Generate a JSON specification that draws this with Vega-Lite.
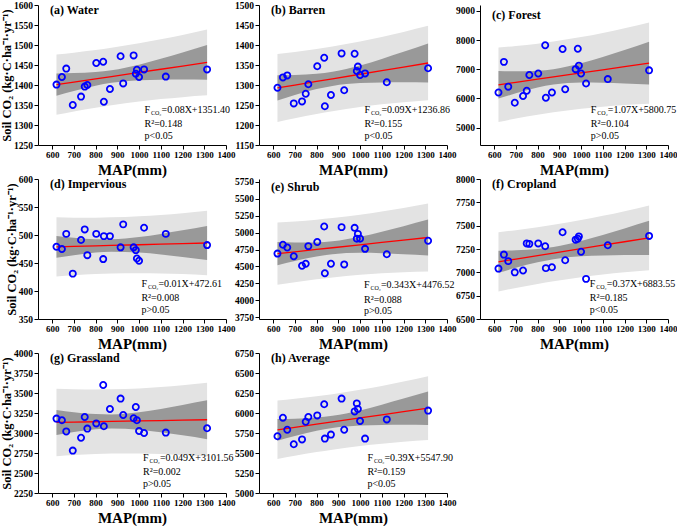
{
"$schema":"https://vega.github.io/schema/vega-lite/v6.json",
"padding":{"left":0,"top":0,"right":0,"bottom":0},
"bounds":"flush",
"columns":3,
"spacing":{"column":33,"row":34},
"config":{
 "view":{"stroke":null},
 "font":"Liberation Serif",
 "axis":{"grid":false,"labelOverlap":false,"tickCount":20,"domainColor":"black","tickColor":"black","tickSize":4,"labelFont":"Liberation Serif","labelFontWeight":"bold","labelFontSize":9.5,"labelColor":"black","labelPadding":1.5,"titleFont":"Liberation Serif","titleFontWeight":"bold","titleFontSize":15,"titleColor":"black"},
 "axisX":{"titlePadding":3,"labelFontSize":9,"labelOverlap":false,"labelFlush":false},
 "axisY":{"titleFontSize":12.5,"titlePadding":0,"labelOverlap":false},
 "title":{"font":"Liberation Serif","fontSize":12,"fontWeight":"bold","anchor":"start","frame":"group","offset":-17,"dx":12,"color":"black","baseline":"alphabetic"},
 "text":{"font":"Liberation Serif","fontSize":10,"color":"black","align":"left","baseline":"middle"},
 "point":{"shape":"circle","filled":false,"color":"#0000ff","strokeWidth":1.8,"size":38,"opacity":1}
},
"datasets":{
"pts":[
{"x":620,"a":1401,"b":1293,"c":6200,"d":479,"e":4690,"f":7040,"g":3180,"h":5710},
{"x":645,"a":1420,"b":1319,"c":7250,"d":475,"e":4820,"f":7190,"g":3160,"h":5940},
{"x":665,"a":1441,"b":1324,"c":6400,"d":502,"e":4780,"f":7120,"g":3020,"h":5790},
{"x":695,"a":1350,"b":1254,"c":5850,"d":431,"e":4650,"f":7000,"g":2780,"h":5610},
{"x":733,"a":1371,"b":1259,"c":6080,"d":491,"e":4510,"f":7020,"g":2940,"h":5670},
{"x":750,"a":1396,"b":1278,"c":6260,"d":510,"e":4540,"f":7310,"g":3200,"h":5890},
{"x":762,"a":1400,"b":1302,"c":6800,"d":464,"e":4800,"f":7305,"g":3055,"h":5950},
{"x":803,"a":1455,"b":1347,"c":6850,"d":502,"e":4860,"f":7310,"g":3120,"h":5970},
{"x":835,"a":1458,"b":1368,"c":7820,"d":457,"e":5090,"f":7280,"g":3600,"h":6110},
{"x":838,"a":1358,"b":1247,"c":6020,"d":498,"e":4400,"f":7045,"g":3085,"h":5680},
{"x":866,"a":1390,"b":1275,"c":6200,"d":498,"e":4540,"f":7055,"g":3300,"h":5730},
{"x":915,"a":1472,"b":1379,"c":7690,"d":478,"e":5080,"f":7430,"g":3430,"h":6180},
{"x":927,"a":1404,"b":1287,"c":6310,"d":519,"e":4530,"f":7130,"g":3225,"h":5790},
{"x":975,"a":1474,"b":1378,"c":7000,"d":478,"e":5070,"f":7350,"g":3185,"h":6020},
{"x":985,"a":1428,"b":1335,"c":7700,"d":473,"e":4910,"f":7360,"g":3325,"h":6120},
{"x":990,"a":1438,"b":1346,"c":7120,"d":458,"e":4980,"f":7385,"g":3160,"h":6050},
{"x":1000,"a":1420,"b":1325,"c":6850,"d":454,"e":4910,"f":7220,"g":3025,"h":5900},
{"x":1023,"a":1439,"b":1329,"c":6510,"d":513,"e":4760,"f":6930,"g":3000,"h":5680},
{"x":1123,"a":1421,"b":1307,"c":6660,"d":502,"e":4680,"f":7290,"g":3005,"h":5920},
{"x":1313,"a":1439,"b":1342,"c":6960,"d":482,"e":4880,"f":7390,"g":3060,"h":6030}
],
"bands":[
{"p":"a","x":620,"fit":1401.0,"cl":1373.0,"ch":1429.0,"pl":1325.6,"ph":1476.4},
{"p":"a","x":700,"fit":1407.4,"cl":1385.1,"ch":1429.7,"pl":1333.9,"ph":1480.9},
{"p":"a","x":800,"fit":1415.4,"cl":1398.4,"ch":1432.4,"pl":1343.4,"ph":1487.4},
{"p":"a","x":873,"fit":1421.2,"cl":1405.5,"ch":1436.9,"pl":1349.5,"ph":1492.9},
{"p":"a","x":1000,"fit":1431.4,"cl":1411.9,"ch":1450.9,"pl":1358.7,"ph":1504.1},
{"p":"a","x":1100,"fit":1439.4,"cl":1413.3,"ch":1465.5,"pl":1364.7,"ph":1514.1},
{"p":"a","x":1200,"fit":1447.4,"cl":1413.5,"ch":1481.3,"pl":1369.6,"ph":1525.2},
{"p":"a","x":1313,"fit":1456.4,"cl":1413.1,"ch":1499.7,"pl":1374.1,"ph":1538.7},
{"p":"b","x":620,"fit":1292.7,"cl":1261.1,"ch":1324.3,"pl":1207.6,"ph":1377.8},
{"p":"b","x":700,"fit":1299.9,"cl":1274.7,"ch":1325.1,"pl":1217.0,"ph":1382.8},
{"p":"b","x":800,"fit":1308.9,"cl":1289.7,"ch":1328.1,"pl":1227.6,"ph":1390.2},
{"p":"b","x":873,"fit":1315.4,"cl":1297.7,"ch":1333.1,"pl":1234.4,"ph":1396.4},
{"p":"b","x":1000,"fit":1326.9,"cl":1304.9,"ch":1348.9,"pl":1244.9,"ph":1408.9},
{"p":"b","x":1100,"fit":1335.9,"cl":1306.5,"ch":1365.3,"pl":1251.6,"ph":1420.2},
{"p":"b","x":1200,"fit":1344.9,"cl":1306.7,"ch":1383.1,"pl":1257.1,"ph":1432.7},
{"p":"b","x":1313,"fit":1355.0,"cl":1306.1,"ch":1403.9,"pl":1262.1,"ph":1448.0},
{"p":"c","x":620,"fit":6464.2,"cl":5990.6,"ch":6937.8,"pl":5189.0,"ph":7739.4},
{"p":"c","x":700,"fit":6549.8,"cl":6172.7,"ch":6926.9,"pl":5307.2,"ph":7792.4},
{"p":"c","x":800,"fit":6656.8,"cl":6368.9,"ch":6944.7,"pl":5438.2,"ph":7875.4},
{"p":"c","x":873,"fit":6734.9,"cl":6470.2,"ch":6999.6,"pl":5521.7,"ph":7948.1},
{"p":"c","x":1000,"fit":6870.8,"cl":6540.7,"ch":7200.9,"pl":5641.7,"ph":8099.9},
{"p":"c","x":1100,"fit":6977.8,"cl":6537.0,"ch":7418.6,"pl":5714.4,"ph":8241.2},
{"p":"c","x":1200,"fit":7084.8,"cl":6512.2,"ch":7657.4,"pl":5769.6,"ph":8400.0},
{"p":"c","x":1313,"fit":7205.7,"cl":6473.2,"ch":7938.2,"pl":5813.4,"ph":8598.0},
{"p":"d","x":620,"fit":478.8,"cl":459.2,"ch":498.4,"pl":426.0,"ph":531.6},
{"p":"d","x":700,"fit":479.6,"cl":464.0,"ch":495.2,"pl":428.2,"ph":531.0},
{"p":"d","x":800,"fit":480.6,"cl":468.7,"ch":492.5,"pl":430.2,"ph":531.0},
{"p":"d","x":873,"fit":481.3,"cl":470.3,"ch":492.3,"pl":431.1,"ph":531.5},
{"p":"d","x":1000,"fit":482.6,"cl":468.9,"ch":496.3,"pl":431.7,"ph":533.5},
{"p":"d","x":1100,"fit":483.6,"cl":465.4,"ch":501.8,"pl":431.3,"ph":535.9},
{"p":"d","x":1200,"fit":484.6,"cl":460.9,"ch":508.3,"pl":430.2,"ph":539.0},
{"p":"d","x":1313,"fit":485.7,"cl":455.4,"ch":516.0,"pl":428.1,"ph":543.3},
{"p":"e","x":620,"fit":4689.2,"cl":4518.4,"ch":4860.0,"pl":4229.3,"ph":5149.1},
{"p":"e","x":700,"fit":4716.6,"cl":4580.6,"ch":4852.6,"pl":4268.5,"ph":5164.7},
{"p":"e","x":800,"fit":4750.9,"cl":4647.1,"ch":4854.7,"pl":4311.4,"ph":5190.4},
{"p":"e","x":873,"fit":4776.0,"cl":4680.5,"ch":4871.5,"pl":4338.5,"ph":5213.5},
{"p":"e","x":1000,"fit":4819.5,"cl":4700.5,"ch":4938.5,"pl":4376.2,"ph":5262.8},
{"p":"e","x":1100,"fit":4853.8,"cl":4694.8,"ch":5012.8,"pl":4398.1,"ph":5309.5},
{"p":"e","x":1200,"fit":4888.1,"cl":4681.6,"ch":5094.6,"pl":4413.8,"ph":5362.4},
{"p":"e","x":1313,"fit":4926.9,"cl":4662.7,"ch":5191.1,"pl":4424.8,"ph":5429.0},
{"p":"f","x":620,"fit":7113.0,"cl":6995.0,"ch":7231.0,"pl":6795.3,"ph":7430.7},
{"p":"f","x":700,"fit":7142.6,"cl":7048.6,"ch":7236.6,"pl":6833.0,"ph":7452.2},
{"p":"f","x":800,"fit":7179.6,"cl":7107.9,"ch":7251.3,"pl":6876.0,"ph":7483.2},
{"p":"f","x":873,"fit":7206.6,"cl":7140.6,"ch":7272.6,"pl":6904.3,"ph":7508.9},
{"p":"f","x":1000,"fit":7253.6,"cl":7171.4,"ch":7335.8,"pl":6947.4,"ph":7559.8},
{"p":"f","x":1100,"fit":7290.6,"cl":7180.8,"ch":7400.4,"pl":6975.8,"ph":7605.4},
{"p":"f","x":1200,"fit":7327.6,"cl":7184.9,"ch":7470.3,"pl":6999.9,"ph":7655.3},
{"p":"f","x":1313,"fit":7369.4,"cl":7186.9,"ch":7551.9,"pl":7022.5,"ph":7716.3},
{"p":"g","x":620,"fit":3131.9,"cl":2975.1,"ch":3288.7,"pl":2709.7,"ph":3554.1},
{"p":"g","x":700,"fit":3135.9,"cl":3011.0,"ch":3260.8,"pl":2724.5,"ph":3547.3},
{"p":"g","x":800,"fit":3140.8,"cl":3045.5,"ch":3236.1,"pl":2737.4,"ph":3544.2},
{"p":"g","x":873,"fit":3144.3,"cl":3056.6,"ch":3232.0,"pl":2742.6,"ph":3546.0},
{"p":"g","x":1000,"fit":3150.6,"cl":3041.3,"ch":3259.9,"pl":2743.7,"ph":3557.5},
{"p":"g","x":1100,"fit":3155.5,"cl":3009.6,"ch":3301.4,"pl":2737.2,"ph":3573.8},
{"p":"g","x":1200,"fit":3160.4,"cl":2970.8,"ch":3350.0,"pl":2725.0,"ph":3595.8},
{"p":"g","x":1313,"fit":3165.9,"cl":2923.4,"ch":3408.4,"pl":2705.0,"ph":3626.8},
{"p":"h","x":620,"fit":5789.7,"cl":5654.1,"ch":5925.3,"pl":5424.6,"ph":6154.8},
{"p":"h","x":700,"fit":5820.9,"cl":5712.9,"ch":5928.9,"pl":5465.1,"ph":6176.7},
{"p":"h","x":800,"fit":5859.9,"cl":5777.5,"ch":5942.3,"pl":5511.0,"ph":6208.8},
{"p":"h","x":873,"fit":5888.4,"cl":5812.6,"ch":5964.2,"pl":5541.0,"ph":6235.8},
{"p":"h","x":1000,"fit":5937.9,"cl":5843.4,"ch":6032.4,"pl":5586.0,"ph":6289.8},
{"p":"h","x":1100,"fit":5976.9,"cl":5850.7,"ch":6103.1,"pl":5615.2,"ph":6338.6},
{"p":"h","x":1200,"fit":6015.9,"cl":5852.0,"ch":6179.8,"pl":5639.3,"ph":6392.5},
{"p":"h","x":1313,"fit":6060.0,"cl":5850.3,"ch":6269.7,"pl":5661.4,"ph":6458.6}
],
"ann":[
{"p":"a","x":1025,"y1":1337.5,"y2":1301.8,"y3":1273.1,"eq":"=0.08X+1351.40","r2":"R²=0.148","pv":"p<0.05"},
{"p":"b","x":1020,"y1":1237.5,"y2":1201.8,"y3":1173.1,"eq":"=0.09X+1236.86","r2":"R²=0.155","pv":"p<0.05"},
{"p":"c","x":1045,"y1":5600,"y2":5110,"y3":4717,"eq":"=1.07X+5800.75","r2":"R²=0.104","pv":"p>0.05"},
{"p":"d","x":1011,"y1":412.5,"y2":387,"y3":366.5,"eq":"=0.01X+472.61","r2":"R²=0.008","pv":"p>0.05"},
{"p":"e","x":1018,"y1":4225,"y2":4011,"y3":3839,"eq":"=0.343X+4476.52","r2":"R²=0.088","pv":"p>0.05"},
{"p":"f","x":1040,"y1":6875,"y2":6722,"y3":6599,"eq":"=0.37X+6883.55","r2":"R²=0.185","pv":"p<0.05"},
{"p":"g","x":1018,"y1":2687.5,"y2":2509,"y3":2365.5,"eq":"=0.049X+3101.56","r2":"R²=0.002","pv":"p>0.05"},
{"p":"h","x":1034,"y1":5437.5,"y2":5259,"y3":5115.5,"eq":"=0.39X+5547.90","r2":"R²=0.159","pv":"p<0.05"}
]
},
"concat":[
{"width":188,"height":140,"title":{"text":"(a) Water"},
 "encoding":{"x":{"field":"x","type":"quantitative","scale":{"domain":[535,1400],"nice":false},"axis":{"values":[600,700,800,900,1000,1100,1200,1300,1400],"tickCount":20,"format":"d","labelOverlap":false,"labelFlush":false},"title":"MAP(mm)"}},
 "layer":[
  {"data":{"name":"bands"},"transform":[{"filter":"datum.p==='a'"}],"mark":{"type":"area","color":"#e3e3e3","interpolate":"monotone"},"encoding":{"y":{"field":"pl","type":"quantitative","scale":{"domain":[1250,1600],"nice":false},"axis":{"values":[1250,1300,1350,1400,1450,1500,1550,1600],"tickCount":20,"format":"d","labelOverlap":false},"title":"Soil CO₂ (kg·C·ha⁻¹·yr⁻¹)"},"y2":{"field":"ph"}}},
  {"data":{"name":"bands"},"transform":[{"filter":"datum.p==='a'"}],"mark":{"type":"area","color":"#999999","interpolate":"monotone"},"encoding":{"y":{"field":"cl","type":"quantitative","title":"Soil CO₂ (kg·C·ha⁻¹·yr⁻¹)"},"y2":{"field":"ch"}}},
  {"data":{"name":"bands"},"transform":[{"filter":"datum.p==='a'"}],"mark":{"type":"line","color":"#ff0000","strokeWidth":1.3},"encoding":{"y":{"field":"fit","type":"quantitative","title":"Soil CO₂ (kg·C·ha⁻¹·yr⁻¹)"}}},
  {"data":{"name":"pts"},"mark":{"type":"point"},"encoding":{"y":{"field":"a","type":"quantitative","title":"Soil CO₂ (kg·C·ha⁻¹·yr⁻¹)"}}},
  {"data":{"name":"ann"},"transform":[{"filter":"datum.p==='a'"}],"mark":{"type":"text"},"encoding":{"y":{"field":"y1","type":"quantitative","title":"Soil CO₂ (kg·C·ha⁻¹·yr⁻¹)"},"text":{"value":"F"}}},
  {"data":{"name":"ann"},"transform":[{"filter":"datum.p==='a'"}],"mark":{"type":"text","fontSize":6,"dx":6.5,"dy":3},"encoding":{"y":{"field":"y1","type":"quantitative","title":"Soil CO₂ (kg·C·ha⁻¹·yr⁻¹)"},"text":{"value":"CO₂"}}},
  {"data":{"name":"ann"},"transform":[{"filter":"datum.p==='a'"}],"mark":{"type":"text","dx":17},"encoding":{"y":{"field":"y1","type":"quantitative","title":"Soil CO₂ (kg·C·ha⁻¹·yr⁻¹)"},"text":{"field":"eq"}}},
  {"data":{"name":"ann"},"transform":[{"filter":"datum.p==='a'"}],"mark":{"type":"text"},"encoding":{"y":{"field":"y2","type":"quantitative","title":"Soil CO₂ (kg·C·ha⁻¹·yr⁻¹)"},"text":{"field":"r2"}}},
  {"data":{"name":"ann"},"transform":[{"filter":"datum.p==='a'"}],"mark":{"type":"text"},"encoding":{"y":{"field":"y3","type":"quantitative","title":"Soil CO₂ (kg·C·ha⁻¹·yr⁻¹)"},"text":{"field":"pv"}}}
 ]},
{"width":188,"height":140,"title":{"text":"(b) Barren"},
 "encoding":{"x":{"field":"x","type":"quantitative","scale":{"domain":[535,1400],"nice":false},"axis":{"values":[600,700,800,900,1000,1100,1200,1300,1400],"tickCount":20,"format":"d","labelOverlap":false,"labelFlush":false},"title":"MAP(mm)"}},
 "layer":[
  {"data":{"name":"bands"},"transform":[{"filter":"datum.p==='b'"}],"mark":{"type":"area","color":"#e3e3e3","interpolate":"monotone"},"encoding":{"y":{"field":"pl","type":"quantitative","scale":{"domain":[1150,1500],"nice":false},"axis":{"values":[1150,1200,1250,1300,1350,1400,1450,1500],"tickCount":20,"format":"d","labelOverlap":false},"title":null},"y2":{"field":"ph"}}},
  {"data":{"name":"bands"},"transform":[{"filter":"datum.p==='b'"}],"mark":{"type":"area","color":"#999999","interpolate":"monotone"},"encoding":{"y":{"field":"cl","type":"quantitative","title":null},"y2":{"field":"ch"}}},
  {"data":{"name":"bands"},"transform":[{"filter":"datum.p==='b'"}],"mark":{"type":"line","color":"#ff0000","strokeWidth":1.3},"encoding":{"y":{"field":"fit","type":"quantitative","title":null}}},
  {"data":{"name":"pts"},"mark":{"type":"point"},"encoding":{"y":{"field":"b","type":"quantitative","title":null}}},
  {"data":{"name":"ann"},"transform":[{"filter":"datum.p==='b'"}],"mark":{"type":"text"},"encoding":{"y":{"field":"y1","type":"quantitative","title":null},"text":{"value":"F"}}},
  {"data":{"name":"ann"},"transform":[{"filter":"datum.p==='b'"}],"mark":{"type":"text","fontSize":6,"dx":6.5,"dy":3},"encoding":{"y":{"field":"y1","type":"quantitative","title":null},"text":{"value":"CO₂"}}},
  {"data":{"name":"ann"},"transform":[{"filter":"datum.p==='b'"}],"mark":{"type":"text","dx":17},"encoding":{"y":{"field":"y1","type":"quantitative","title":null},"text":{"field":"eq"}}},
  {"data":{"name":"ann"},"transform":[{"filter":"datum.p==='b'"}],"mark":{"type":"text"},"encoding":{"y":{"field":"y2","type":"quantitative","title":null},"text":{"field":"r2"}}},
  {"data":{"name":"ann"},"transform":[{"filter":"datum.p==='b'"}],"mark":{"type":"text"},"encoding":{"y":{"field":"y3","type":"quantitative","title":null},"text":{"field":"pv"}}}
 ]},
{"width":188,"height":140,"title":{"text":"(c) Forest"},
 "encoding":{"x":{"field":"x","type":"quantitative","scale":{"domain":[535,1400],"nice":false},"axis":{"values":[600,700,800,900,1000,1100,1200,1300,1400],"tickCount":20,"format":"d","labelOverlap":false,"labelFlush":false},"title":"MAP(mm)"}},
 "layer":[
  {"data":{"name":"bands"},"transform":[{"filter":"datum.p==='c'"}],"mark":{"type":"area","color":"#e3e3e3","interpolate":"monotone"},"encoding":{"y":{"field":"pl","type":"quantitative","scale":{"domain":[4400,9200],"nice":false},"axis":{"values":[5000,6000,7000,8000,9000],"tickCount":20,"format":"d","labelOverlap":false},"title":null},"y2":{"field":"ph"}}},
  {"data":{"name":"bands"},"transform":[{"filter":"datum.p==='c'"}],"mark":{"type":"area","color":"#999999","interpolate":"monotone"},"encoding":{"y":{"field":"cl","type":"quantitative","title":null},"y2":{"field":"ch"}}},
  {"data":{"name":"bands"},"transform":[{"filter":"datum.p==='c'"}],"mark":{"type":"line","color":"#ff0000","strokeWidth":1.3},"encoding":{"y":{"field":"fit","type":"quantitative","title":null}}},
  {"data":{"name":"pts"},"mark":{"type":"point"},"encoding":{"y":{"field":"c","type":"quantitative","title":null}}},
  {"data":{"name":"ann"},"transform":[{"filter":"datum.p==='c'"}],"mark":{"type":"text"},"encoding":{"y":{"field":"y1","type":"quantitative","title":null},"text":{"value":"F"}}},
  {"data":{"name":"ann"},"transform":[{"filter":"datum.p==='c'"}],"mark":{"type":"text","fontSize":6,"dx":6.5,"dy":3},"encoding":{"y":{"field":"y1","type":"quantitative","title":null},"text":{"value":"CO₂"}}},
  {"data":{"name":"ann"},"transform":[{"filter":"datum.p==='c'"}],"mark":{"type":"text","dx":17},"encoding":{"y":{"field":"y1","type":"quantitative","title":null},"text":{"field":"eq"}}},
  {"data":{"name":"ann"},"transform":[{"filter":"datum.p==='c'"}],"mark":{"type":"text"},"encoding":{"y":{"field":"y2","type":"quantitative","title":null},"text":{"field":"r2"}}},
  {"data":{"name":"ann"},"transform":[{"filter":"datum.p==='c'"}],"mark":{"type":"text"},"encoding":{"y":{"field":"y3","type":"quantitative","title":null},"text":{"field":"pv"}}}
 ]},
{"width":188,"height":140,"title":{"text":"(d) Impervious"},
 "encoding":{"x":{"field":"x","type":"quantitative","scale":{"domain":[535,1400],"nice":false},"axis":{"values":[600,700,800,900,1000,1100,1200,1300,1400],"tickCount":20,"format":"d","labelOverlap":false,"labelFlush":false},"title":"MAP(mm)"}},
 "layer":[
  {"data":{"name":"bands"},"transform":[{"filter":"datum.p==='d'"}],"mark":{"type":"area","color":"#e3e3e3","interpolate":"monotone"},"encoding":{"y":{"field":"pl","type":"quantitative","scale":{"domain":[350,600],"nice":false},"axis":{"values":[350,400,450,500,550,600],"tickCount":20,"format":"d","labelOverlap":false},"title":"Soil CO₂ (kg·C·ha⁻¹·yr⁻¹)"},"y2":{"field":"ph"}}},
  {"data":{"name":"bands"},"transform":[{"filter":"datum.p==='d'"}],"mark":{"type":"area","color":"#999999","interpolate":"monotone"},"encoding":{"y":{"field":"cl","type":"quantitative","title":"Soil CO₂ (kg·C·ha⁻¹·yr⁻¹)"},"y2":{"field":"ch"}}},
  {"data":{"name":"bands"},"transform":[{"filter":"datum.p==='d'"}],"mark":{"type":"line","color":"#ff0000","strokeWidth":1.3},"encoding":{"y":{"field":"fit","type":"quantitative","title":"Soil CO₂ (kg·C·ha⁻¹·yr⁻¹)"}}},
  {"data":{"name":"pts"},"mark":{"type":"point"},"encoding":{"y":{"field":"d","type":"quantitative","title":"Soil CO₂ (kg·C·ha⁻¹·yr⁻¹)"}}},
  {"data":{"name":"ann"},"transform":[{"filter":"datum.p==='d'"}],"mark":{"type":"text"},"encoding":{"y":{"field":"y1","type":"quantitative","title":"Soil CO₂ (kg·C·ha⁻¹·yr⁻¹)"},"text":{"value":"F"}}},
  {"data":{"name":"ann"},"transform":[{"filter":"datum.p==='d'"}],"mark":{"type":"text","fontSize":6,"dx":6.5,"dy":3},"encoding":{"y":{"field":"y1","type":"quantitative","title":"Soil CO₂ (kg·C·ha⁻¹·yr⁻¹)"},"text":{"value":"CO₂"}}},
  {"data":{"name":"ann"},"transform":[{"filter":"datum.p==='d'"}],"mark":{"type":"text","dx":17},"encoding":{"y":{"field":"y1","type":"quantitative","title":"Soil CO₂ (kg·C·ha⁻¹·yr⁻¹)"},"text":{"field":"eq"}}},
  {"data":{"name":"ann"},"transform":[{"filter":"datum.p==='d'"}],"mark":{"type":"text"},"encoding":{"y":{"field":"y2","type":"quantitative","title":"Soil CO₂ (kg·C·ha⁻¹·yr⁻¹)"},"text":{"field":"r2"}}},
  {"data":{"name":"ann"},"transform":[{"filter":"datum.p==='d'"}],"mark":{"type":"text"},"encoding":{"y":{"field":"y3","type":"quantitative","title":"Soil CO₂ (kg·C·ha⁻¹·yr⁻¹)"},"text":{"field":"pv"}}}
 ]},
{"width":188,"height":140,"title":{"text":"(e) Shrub"},
 "encoding":{"x":{"field":"x","type":"quantitative","scale":{"domain":[535,1400],"nice":false},"axis":{"values":[600,700,800,900,1000,1100,1200,1300,1400],"tickCount":20,"format":"d","labelOverlap":false,"labelFlush":false},"title":"MAP(mm)"}},
 "layer":[
  {"data":{"name":"bands"},"transform":[{"filter":"datum.p==='e'"}],"mark":{"type":"area","color":"#e3e3e3","interpolate":"monotone"},"encoding":{"y":{"field":"pl","type":"quantitative","scale":{"domain":[3725,5790],"nice":false},"axis":{"values":[3750,4000,4250,4500,4750,5000,5250,5500,5750],"tickCount":20,"format":"d","labelOverlap":false},"title":null},"y2":{"field":"ph"}}},
  {"data":{"name":"bands"},"transform":[{"filter":"datum.p==='e'"}],"mark":{"type":"area","color":"#999999","interpolate":"monotone"},"encoding":{"y":{"field":"cl","type":"quantitative","title":null},"y2":{"field":"ch"}}},
  {"data":{"name":"bands"},"transform":[{"filter":"datum.p==='e'"}],"mark":{"type":"line","color":"#ff0000","strokeWidth":1.3},"encoding":{"y":{"field":"fit","type":"quantitative","title":null}}},
  {"data":{"name":"pts"},"mark":{"type":"point"},"encoding":{"y":{"field":"e","type":"quantitative","title":null}}},
  {"data":{"name":"ann"},"transform":[{"filter":"datum.p==='e'"}],"mark":{"type":"text"},"encoding":{"y":{"field":"y1","type":"quantitative","title":null},"text":{"value":"F"}}},
  {"data":{"name":"ann"},"transform":[{"filter":"datum.p==='e'"}],"mark":{"type":"text","fontSize":6,"dx":6.5,"dy":3},"encoding":{"y":{"field":"y1","type":"quantitative","title":null},"text":{"value":"CO₂"}}},
  {"data":{"name":"ann"},"transform":[{"filter":"datum.p==='e'"}],"mark":{"type":"text","dx":17},"encoding":{"y":{"field":"y1","type":"quantitative","title":null},"text":{"field":"eq"}}},
  {"data":{"name":"ann"},"transform":[{"filter":"datum.p==='e'"}],"mark":{"type":"text"},"encoding":{"y":{"field":"y2","type":"quantitative","title":null},"text":{"field":"r2"}}},
  {"data":{"name":"ann"},"transform":[{"filter":"datum.p==='e'"}],"mark":{"type":"text"},"encoding":{"y":{"field":"y3","type":"quantitative","title":null},"text":{"field":"pv"}}}
 ]},
{"width":188,"height":140,"title":{"text":"(f) Cropland"},
 "encoding":{"x":{"field":"x","type":"quantitative","scale":{"domain":[535,1400],"nice":false},"axis":{"values":[600,700,800,900,1000,1100,1200,1300,1400],"tickCount":20,"format":"d","labelOverlap":false,"labelFlush":false},"title":"MAP(mm)"}},
 "layer":[
  {"data":{"name":"bands"},"transform":[{"filter":"datum.p==='f'"}],"mark":{"type":"area","color":"#e3e3e3","interpolate":"monotone"},"encoding":{"y":{"field":"pl","type":"quantitative","scale":{"domain":[6500,8000],"nice":false},"axis":{"values":[6500,6750,7000,7250,7500,7750,8000],"tickCount":20,"format":"d","labelOverlap":false},"title":null},"y2":{"field":"ph"}}},
  {"data":{"name":"bands"},"transform":[{"filter":"datum.p==='f'"}],"mark":{"type":"area","color":"#999999","interpolate":"monotone"},"encoding":{"y":{"field":"cl","type":"quantitative","title":null},"y2":{"field":"ch"}}},
  {"data":{"name":"bands"},"transform":[{"filter":"datum.p==='f'"}],"mark":{"type":"line","color":"#ff0000","strokeWidth":1.3},"encoding":{"y":{"field":"fit","type":"quantitative","title":null}}},
  {"data":{"name":"pts"},"mark":{"type":"point"},"encoding":{"y":{"field":"f","type":"quantitative","title":null}}},
  {"data":{"name":"ann"},"transform":[{"filter":"datum.p==='f'"}],"mark":{"type":"text"},"encoding":{"y":{"field":"y1","type":"quantitative","title":null},"text":{"value":"F"}}},
  {"data":{"name":"ann"},"transform":[{"filter":"datum.p==='f'"}],"mark":{"type":"text","fontSize":6,"dx":6.5,"dy":3},"encoding":{"y":{"field":"y1","type":"quantitative","title":null},"text":{"value":"CO₂"}}},
  {"data":{"name":"ann"},"transform":[{"filter":"datum.p==='f'"}],"mark":{"type":"text","dx":17},"encoding":{"y":{"field":"y1","type":"quantitative","title":null},"text":{"field":"eq"}}},
  {"data":{"name":"ann"},"transform":[{"filter":"datum.p==='f'"}],"mark":{"type":"text"},"encoding":{"y":{"field":"y2","type":"quantitative","title":null},"text":{"field":"r2"}}},
  {"data":{"name":"ann"},"transform":[{"filter":"datum.p==='f'"}],"mark":{"type":"text"},"encoding":{"y":{"field":"y3","type":"quantitative","title":null},"text":{"field":"pv"}}}
 ]},
{"width":188,"height":140,"title":{"text":"(g) Grassland"},
 "encoding":{"x":{"field":"x","type":"quantitative","scale":{"domain":[535,1400],"nice":false},"axis":{"values":[600,700,800,900,1000,1100,1200,1300,1400],"tickCount":20,"format":"d","labelOverlap":false,"labelFlush":false},"title":"MAP(mm)"}},
 "layer":[
  {"data":{"name":"bands"},"transform":[{"filter":"datum.p==='g'"}],"mark":{"type":"area","color":"#e3e3e3","interpolate":"monotone"},"encoding":{"y":{"field":"pl","type":"quantitative","scale":{"domain":[2250,4000],"nice":false},"axis":{"values":[2250,2500,2750,3000,3250,3500,3750,4000],"tickCount":20,"format":"d","labelOverlap":false},"title":"Soil CO₂ (kg·C·ha⁻¹·yr⁻¹)"},"y2":{"field":"ph"}}},
  {"data":{"name":"bands"},"transform":[{"filter":"datum.p==='g'"}],"mark":{"type":"area","color":"#999999","interpolate":"monotone"},"encoding":{"y":{"field":"cl","type":"quantitative","title":"Soil CO₂ (kg·C·ha⁻¹·yr⁻¹)"},"y2":{"field":"ch"}}},
  {"data":{"name":"bands"},"transform":[{"filter":"datum.p==='g'"}],"mark":{"type":"line","color":"#ff0000","strokeWidth":1.3},"encoding":{"y":{"field":"fit","type":"quantitative","title":"Soil CO₂ (kg·C·ha⁻¹·yr⁻¹)"}}},
  {"data":{"name":"pts"},"mark":{"type":"point"},"encoding":{"y":{"field":"g","type":"quantitative","title":"Soil CO₂ (kg·C·ha⁻¹·yr⁻¹)"}}},
  {"data":{"name":"ann"},"transform":[{"filter":"datum.p==='g'"}],"mark":{"type":"text"},"encoding":{"y":{"field":"y1","type":"quantitative","title":"Soil CO₂ (kg·C·ha⁻¹·yr⁻¹)"},"text":{"value":"F"}}},
  {"data":{"name":"ann"},"transform":[{"filter":"datum.p==='g'"}],"mark":{"type":"text","fontSize":6,"dx":6.5,"dy":3},"encoding":{"y":{"field":"y1","type":"quantitative","title":"Soil CO₂ (kg·C·ha⁻¹·yr⁻¹)"},"text":{"value":"CO₂"}}},
  {"data":{"name":"ann"},"transform":[{"filter":"datum.p==='g'"}],"mark":{"type":"text","dx":17},"encoding":{"y":{"field":"y1","type":"quantitative","title":"Soil CO₂ (kg·C·ha⁻¹·yr⁻¹)"},"text":{"field":"eq"}}},
  {"data":{"name":"ann"},"transform":[{"filter":"datum.p==='g'"}],"mark":{"type":"text"},"encoding":{"y":{"field":"y2","type":"quantitative","title":"Soil CO₂ (kg·C·ha⁻¹·yr⁻¹)"},"text":{"field":"r2"}}},
  {"data":{"name":"ann"},"transform":[{"filter":"datum.p==='g'"}],"mark":{"type":"text"},"encoding":{"y":{"field":"y3","type":"quantitative","title":"Soil CO₂ (kg·C·ha⁻¹·yr⁻¹)"},"text":{"field":"pv"}}}
 ]},
{"width":188,"height":140,"title":{"text":"(h) Average"},
 "encoding":{"x":{"field":"x","type":"quantitative","scale":{"domain":[535,1400],"nice":false},"axis":{"values":[600,700,800,900,1000,1100,1200,1300,1400],"tickCount":20,"format":"d","labelOverlap":false,"labelFlush":false},"title":"MAP(mm)"}},
 "layer":[
  {"data":{"name":"bands"},"transform":[{"filter":"datum.p==='h'"}],"mark":{"type":"area","color":"#e3e3e3","interpolate":"monotone"},"encoding":{"y":{"field":"pl","type":"quantitative","scale":{"domain":[5000,6750],"nice":false},"axis":{"values":[5000,5250,5500,5750,6000,6250,6500,6750],"tickCount":20,"format":"d","labelOverlap":false},"title":null},"y2":{"field":"ph"}}},
  {"data":{"name":"bands"},"transform":[{"filter":"datum.p==='h'"}],"mark":{"type":"area","color":"#999999","interpolate":"monotone"},"encoding":{"y":{"field":"cl","type":"quantitative","title":null},"y2":{"field":"ch"}}},
  {"data":{"name":"bands"},"transform":[{"filter":"datum.p==='h'"}],"mark":{"type":"line","color":"#ff0000","strokeWidth":1.3},"encoding":{"y":{"field":"fit","type":"quantitative","title":null}}},
  {"data":{"name":"pts"},"mark":{"type":"point"},"encoding":{"y":{"field":"h","type":"quantitative","title":null}}},
  {"data":{"name":"ann"},"transform":[{"filter":"datum.p==='h'"}],"mark":{"type":"text"},"encoding":{"y":{"field":"y1","type":"quantitative","title":null},"text":{"value":"F"}}},
  {"data":{"name":"ann"},"transform":[{"filter":"datum.p==='h'"}],"mark":{"type":"text","fontSize":6,"dx":6.5,"dy":3},"encoding":{"y":{"field":"y1","type":"quantitative","title":null},"text":{"value":"CO₂"}}},
  {"data":{"name":"ann"},"transform":[{"filter":"datum.p==='h'"}],"mark":{"type":"text","dx":17},"encoding":{"y":{"field":"y1","type":"quantitative","title":null},"text":{"field":"eq"}}},
  {"data":{"name":"ann"},"transform":[{"filter":"datum.p==='h'"}],"mark":{"type":"text"},"encoding":{"y":{"field":"y2","type":"quantitative","title":null},"text":{"field":"r2"}}},
  {"data":{"name":"ann"},"transform":[{"filter":"datum.p==='h'"}],"mark":{"type":"text"},"encoding":{"y":{"field":"y3","type":"quantitative","title":null},"text":{"field":"pv"}}}
 ]}
]
}
